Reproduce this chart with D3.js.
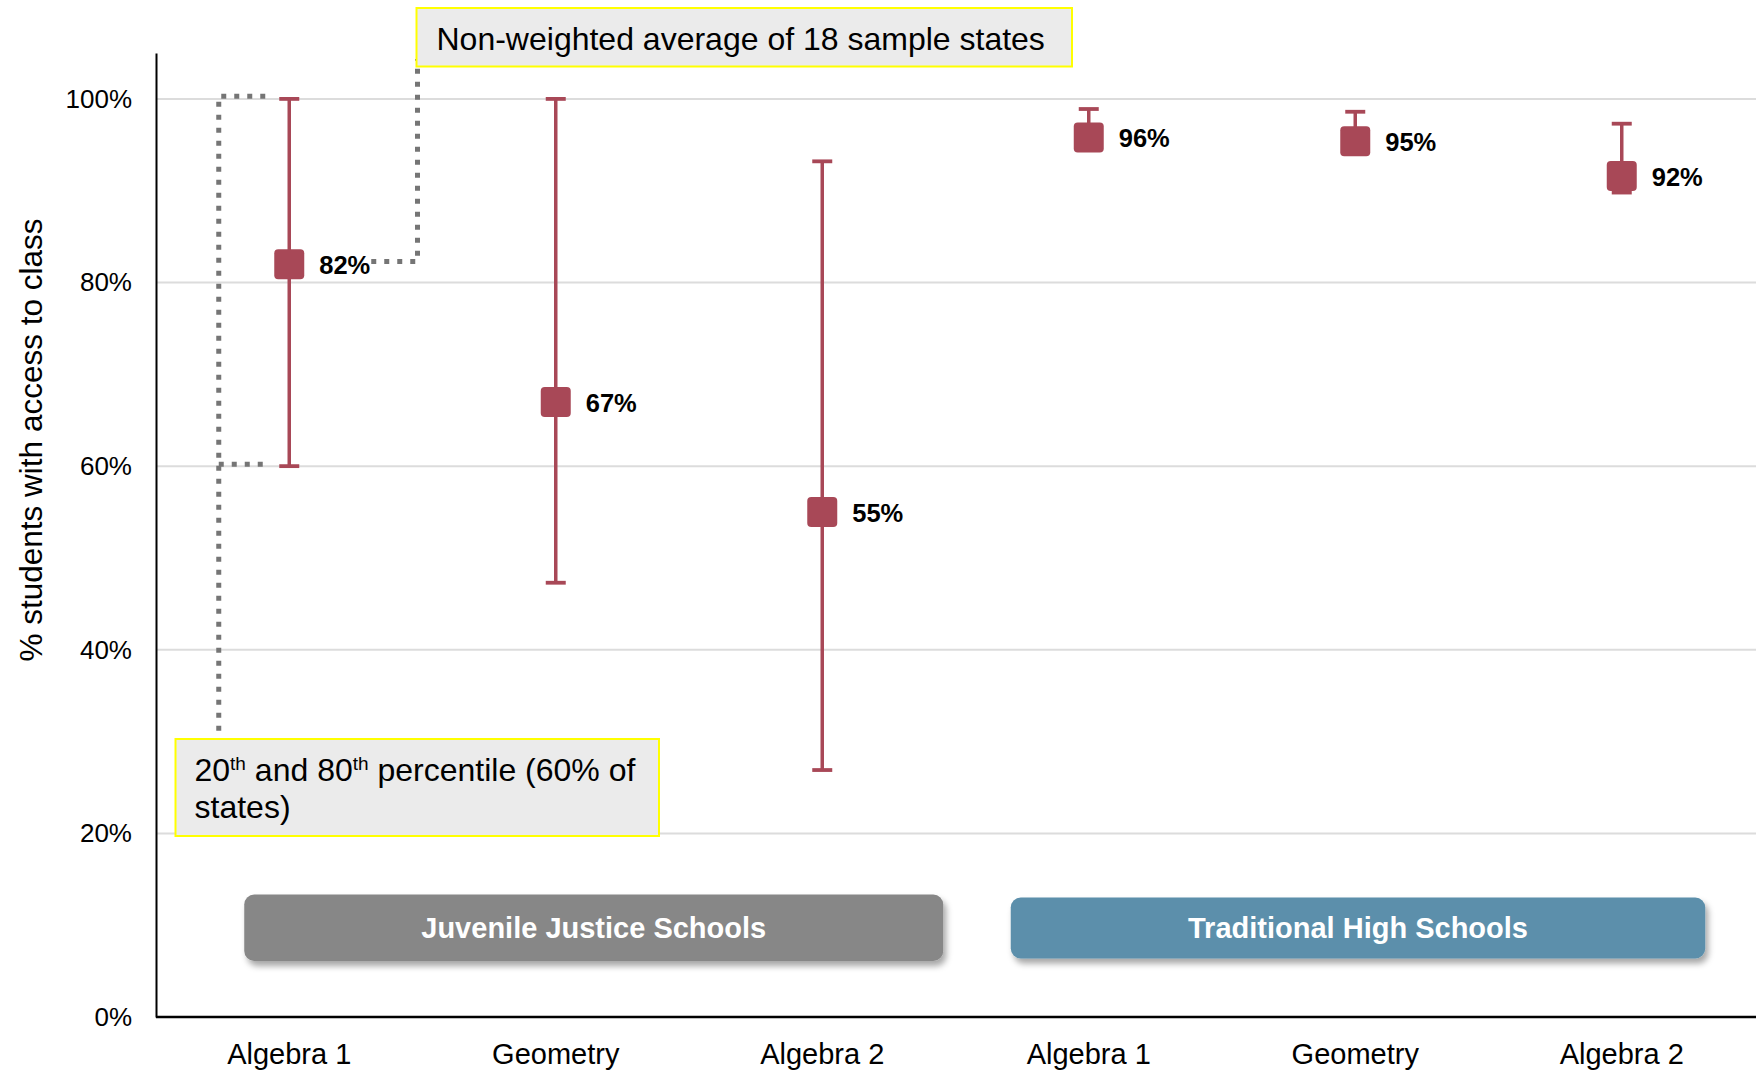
<!DOCTYPE html>
<html>
<head>
<meta charset="utf-8">
<script src="https://cdn.jsdelivr.net/npm/d3@7"></script>
<style>
  html, body { margin: 0; padding: 0; background: #fff; }
  svg { display: block; font-family: "Liberation Sans", Arial, sans-serif; }
</style>
</head>
<body>
<svg id="chart" width="1760" height="1070"></svg>
<script>
// ---- data ----
const categories = ["Algebra 1", "Geometry", "Algebra 2", "Algebra 1", "Geometry", "Algebra 2"];
const groups = ["Juvenile Justice Schools", "Traditional High Schools"];
const averages = [82, 67, 55, 95.8, 95.4, 91.6];
const pct20 = [60, 47.3, 26.9, 95, 94, 89.8];
const pct80 = [100, 100, 93.2, 98.9, 98.6, 97.3];
const yTicks = [0, 20, 40, 60, 80, 100];
const yTitle = "% students with access to class";
const noteAverage = "Non-weighted average of 18 sample states";

// ---- layout ----
const plotLeft = 156, plotRight = 1755, plotTop = 53, plotBottom = 1017;
const markColor = "#a84857";
const groupColors = ["#878787", "#5b8fab"];

const svg = d3.select("#chart");
const defs = svg.append("defs");
const flt = defs.append("filter").attr("id", "shadow").attr("x", "-10%").attr("y", "-30%").attr("width", "120%").attr("height", "170%");
flt.append("feDropShadow").attr("dx", 3).attr("dy", 5).attr("stdDeviation", 3).attr("flood-color", "#000").attr("flood-opacity", 0.35);

const x = d3.scaleBand().domain(d3.range(categories.length)).range([plotLeft, plotRight]).paddingInner(0).paddingOuter(0);
const y = d3.scaleLinear().domain([0, 105]).range([plotBottom, plotTop]);
const cx = i => x(i) + x.bandwidth() / 2;

// gridlines
svg.append("g").selectAll("line").data(yTicks.filter(d => d > 0)).join("line")
  .attr("x1", plotLeft).attr("x2", 1756)
  .attr("y1", d => y(d)).attr("y2", d => y(d))
  .attr("stroke", "#dcdcdc").attr("stroke-width", 2);

// y axis
const yAxis = svg.append("g").attr("transform", `translate(${plotLeft},0)`)
  .call(d3.axisLeft(y).tickValues(yTicks).tickFormat(d => d + "%").tickSize(0).tickSizeOuter(0).tickPadding(24));
yAxis.select(".domain").attr("stroke", "#000").attr("stroke-width", 2);
yAxis.selectAll("text").attr("font-size", 26).attr("fill", "#000")
  .attr("font-family", '"Liberation Sans", Arial, sans-serif');

// x axis
const xAxis = svg.append("g").attr("transform", `translate(0,${plotBottom})`)
  .call(d3.axisBottom(x).tickFormat(i => categories[i]).tickSize(0).tickSizeOuter(0).tickPadding(26.5));
xAxis.select(".domain").attr("stroke", "#000").attr("stroke-width", 2.3).attr("d", `M${plotLeft},0H1756`);
xAxis.selectAll("text").attr("font-size", 29).attr("fill", "#000")
  .attr("font-family", '"Liberation Sans", Arial, sans-serif');

// y title
svg.append("text")
  .attr("transform", `translate(42,440) rotate(-90)`)
  .attr("text-anchor", "middle").attr("font-size", 31.5).attr("fill", "#000")
  .text(yTitle);

// group banners
const bannerSpans = [[cx(0) - 45, cx(2) + 121], [cx(3) - 78, cx(5) + 83.5]];
const bannerY = [894.5, 897.5], bannerH = [66.5, 61];
const banners = svg.append("g").selectAll("g").data(groups).join("g");
banners.append("rect")
  .attr("x", (d, i) => bannerSpans[i][0]).attr("width", (d, i) => bannerSpans[i][1] - bannerSpans[i][0])
  .attr("y", (d, i) => bannerY[i]).attr("height", (d, i) => bannerH[i])
  .attr("rx", 10).attr("fill", (d, i) => groupColors[i]).attr("filter", "url(#shadow)");
banners.append("text")
  .attr("x", (d, i) => (bannerSpans[i][0] + bannerSpans[i][1]) / 2)
  .attr("y", (d, i) => bannerY[i] + bannerH[i] / 2 + 10)
  .attr("text-anchor", "middle").attr("font-size", 29).attr("font-weight", "bold").attr("fill", "#fff")
  .text(d => d);

// dotted annotation connectors
const dotted = svg.append("g").attr("fill", "none").attr("stroke", "#757575")
  .attr("stroke-width", 5).attr("stroke-dasharray", "5 8");
const bx = cx(0) - 70.5;
dotted.append("path").attr("d", `M${cx(0) - 24},${y(100.3)}H${bx}V732`);
dotted.append("path").attr("d", `M${bx},${y(60.2)}H${cx(0) - 23}`);
dotted.append("path").attr("d", `M${cx(0) + 82},${y(82.3)}H417.5V59`);

// error bars
const bars = svg.append("g");
categories.forEach((c, i) => {
  const g = bars.append("g");
  g.append("line").attr("x1", cx(i)).attr("x2", cx(i)).attr("y1", y(pct20[i])).attr("y2", y(pct80[i]))
    .attr("stroke", markColor).attr("stroke-width", 3.5);
  [pct20[i], pct80[i]].forEach(v => {
    g.append("line").attr("x1", cx(i) - 10).attr("x2", cx(i) + 10).attr("y1", y(v)).attr("y2", y(v))
      .attr("stroke", markColor).attr("stroke-width", 3.8);
  });
  g.append("rect").attr("x", cx(i) - 15).attr("y", y(averages[i]) - 15).attr("width", 30).attr("height", 30)
    .attr("rx", 4).attr("fill", markColor);
  g.append("text").attr("x", cx(i) + 30).attr("y", y(averages[i]) + 10)
    .attr("font-size", 25.5).attr("font-weight", "bold").attr("fill", "#000")
    .text(Math.round(averages[i]) + "%");
});

// annotation box: average
const a1 = svg.append("g");
a1.append("rect").attr("x", 416.5).attr("y", 8).attr("width", 655.5).attr("height", 58.5)
  .attr("fill", "#ebebeb").attr("stroke", "#ffff00").attr("stroke-width", 2);
a1.append("text").attr("x", 436.5).attr("y", 50).attr("font-size", 32).attr("fill", "#000").text(noteAverage);

// annotation box: percentiles
const a2 = svg.append("g");
a2.append("rect").attr("x", 175.5).attr("y", 739).attr("width", 483.5).attr("height", 97)
  .attr("fill", "#ebebeb").attr("stroke", "#ffff00").attr("stroke-width", 2);
const t2 = a2.append("text").attr("x", 194.5).attr("y", 781).attr("font-size", 32).attr("fill", "#000");
t2.append("tspan").text("20");
t2.append("tspan").attr("font-size", 19).attr("dy", -11).text("th");
t2.append("tspan").attr("dy", 11).text(" and 80");
t2.append("tspan").attr("font-size", 19).attr("dy", -11).text("th");
t2.append("tspan").attr("dy", 11).text(" percentile (60% of");
a2.append("text").attr("x", 194.5).attr("y", 817.5).attr("font-size", 32).attr("fill", "#000").text("states)");
</script>
</body>
</html>
